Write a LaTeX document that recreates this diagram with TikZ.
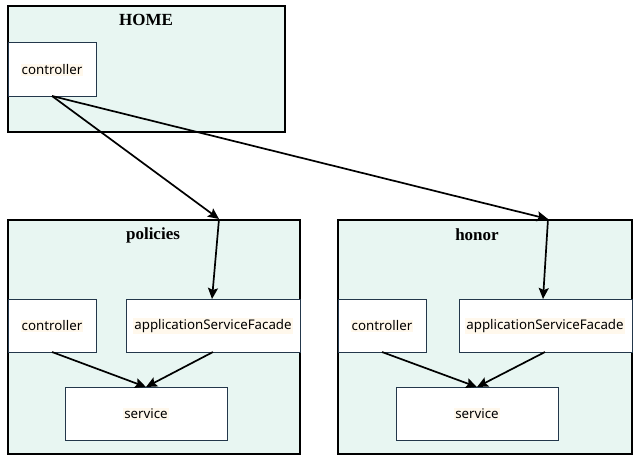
\documentclass[tikz,border=0pt]{standalone}
\usepackage{fontspec}
\setmainfont{Liberation Serif}
\newfontfamily\boxfont{Noto Sans}
\usetikzlibrary{arrows.meta}
\definecolor{mint}{RGB}{232,246,242}
\definecolor{inner}{RGB}{35,55,75}
\definecolor{hl}{RGB}{255,248,236}
\newcommand{\hltext}[1]{{\setlength{\fboxsep}{1pt}\colorbox{hl}{#1}}}
\tikzset{
  group/.style={draw=black, line width=1.6pt, fill=mint},
  grouptitle/.style={font=\fontsize{17}{19}\selectfont\bfseries, inner sep=0pt},
  comp/.style={draw=inner, line width=0.8pt, fill=white, font=\boxfont\fontsize{13.3}{15}\selectfont, inner sep=0pt},
  link/.style={line width=1.7pt, -{Stealth[length=11pt,width=10pt,inset=2pt]}},
}
\begin{document}
\begin{tikzpicture}[x=1pt,y=-1pt]
\useasboundingbox (0,0) rectangle (639,460);
% HOME
\draw[group] (8,6) rectangle (285,132);
\node[grouptitle] (thome) at (146,20) {HOME};
\draw[comp] (8,42) rectangle (96,96);
\node[comp, draw=none, fill=none] (hc) at (52,70) {\hltext{controller}};
\coordinate (hcs) at (52,96);
% policies
\draw[group] (8,220) rectangle (300,454);
\node[grouptitle] (tpol) at (153,235) {policies};
\draw[comp] (8,299) rectangle (96,352);
\node[comp, draw=none, fill=none] (pc) at (52,326) {\hltext{controller}};
\draw[comp] (126,299) rectangle (300,352);
\node[comp, draw=none, fill=none] (pa) at (213,326) {\hltext{applicationServiceFacade}};
\draw[comp] (65,387) rectangle (227,440);
\node[comp, draw=none, fill=none] (ps) at (146,414) {\hltext{service}};
% honor
\draw[group] (338,220) rectangle (632,454);
\node[grouptitle] (thon) at (477,235) {honor};
\draw[comp] (338,299) rectangle (426,352);
\node[comp, draw=none, fill=none] (nc) at (382,326) {\hltext{controller}};
\draw[comp] (459,299) rectangle (632,352);
\node[comp, draw=none, fill=none] (na) at (545,326) {\hltext{applicationServiceFacade}};
\draw[comp] (396,387) rectangle (558,440);
\node[comp, draw=none, fill=none] (ns) at (477,414) {\hltext{service}};
% anchor coordinates
\coordinate (p1) at (219,219);
\coordinate (p2) at (548,219);
\coordinate (pan) at (212,299);
\coordinate (nan) at (543,299);
\coordinate (pcs) at (52,352);
\coordinate (pas) at (213,352);
\coordinate (psn) at (146,387);
\coordinate (ncs) at (382,352);
\coordinate (nas) at (545,352);
\coordinate (nsn) at (477,387);
% connectors
\draw[link] (hcs) -- (p1);
\draw[link] (hcs) -- (p2);
\draw[link] (p1) -- (pan);
\draw[link] (p2) -- (nan);
\draw[link] (pcs) -- (psn);
\draw[link] (pas) -- (psn);
\draw[link] (ncs) -- (nsn);
\draw[link] (nas) -- (nsn);
\end{tikzpicture}
\end{document}
